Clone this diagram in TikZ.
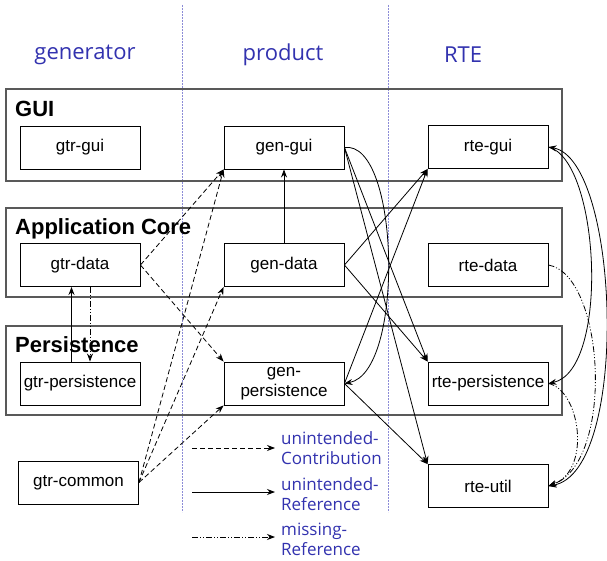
\documentclass[tikz,border=0pt]{standalone}
\usepackage{fontspec}
\setmainfont{Liberation Sans}
\newfontfamily\hdfont{Open Sans}
\usetikzlibrary{arrows.meta}
\definecolor{hdblue}{RGB}{50,50,175}
\definecolor{sepblue}{RGB}{140,140,215}
\begin{document}
\begin{tikzpicture}[x=1pt,y=-1pt,
  comp/.style={draw=black,line width=0.9pt,minimum width=120pt,minimum height=43pt,inner sep=0pt,fill=white,font=\fontsize{17}{20}\selectfont,align=center},
  layerbox/.style={draw=black!65,line width=1.2pt},
  layerlbl/.style={anchor=base west,inner sep=0pt,font=\fontsize{22}{24}\selectfont\bfseries},
  hdr/.style={text=hdblue,font=\hdfont\fontsize{22}{24}\selectfont},
  lgd/.style={text=hdblue,font=\hdfont\fontsize{17}{20}\selectfont,align=left,anchor=west,inner sep=0pt},
  sep/.style={draw=sepblue,line width=0.8pt,dash pattern=on 2pt off 1pt},
  arr/.style={-{Stealth[length=8pt,width=6pt]},line width=0.8pt},
  contrib/.style={arr,dash pattern=on 5pt off 3pt},
  uref/.style={arr},
  mref/.style={arr,dash pattern=on 6pt off 2pt on 1pt off 2pt on 1pt off 2pt}
]
\useasboundingbox (0,0) rectangle (607,561);
\fill[white] (0,0) rectangle (607,561);
% separators
\draw[sep] (182,5) -- (182,512);
\draw[sep] (388,5) -- (388,512);
% headers
\node[hdr] (hgen) at (85,55) {generator};
\node[hdr] (hprod) at (283,55) {product};
\node[hdr] (hrte) at (463,55) {RTE};
% layers
\draw[layerbox] (6,89) rectangle (562,181);
\draw[layerbox] (6,208) rectangle (562,297);
\draw[layerbox] (6,326) rectangle (562,415);
\node[layerlbl] (lgui) at (15,117) {GUI};
\node[layerlbl] (lapp) at (15,234) {Application Core};
\node[layerlbl] (lper) at (15,352) {Persistence};
% components
\node[comp] (gtrgui) at (80,147.5) {gtr-gui};
\node[comp] (gengui) at (284,147.5) {gen-gui};
\node[comp] (rtegui) at (488,147) {rte-gui};
\node[comp] (gtrdata) at (80,265) {gtr-data};
\node[comp] (gendata) at (284,265) {gen-data};
\node[comp] (rtedata) at (488,265) {rte-data};
\node[comp] (gtrpers) at (80,383.5) {gtr-persistence};
\node[comp] (genpers) at (284,383.5) {gen-\\persistence};
\node[comp] (rtepers) at (488,383.5) {rte-persistence};
\node[comp] (gtrcommon) at (78.5,482.5) {gtr-common};
\node[comp] (rteutil) at (488,486) {rte-util};
% unintended contributions (dashed)
\draw[contrib] (gtrdata.east) -- (gengui.south west);
\draw[contrib] (gtrdata.east) -- (genpers.north west);
\draw[contrib] (gtrcommon.east) -- (gengui.south west);
\draw[contrib] (gtrcommon.east) -- (gendata.south west);
\draw[contrib] (gtrcommon.east) -- (genpers.south west);
% unintended references (solid)
\draw[uref] (gtrpers.north -| 71.5,0) -- (gtrdata.south -| 71.5,0);
\draw[uref] (gendata.north) -- (gengui.south);
\draw[uref] (gengui.east) .. controls (400,140) and (405,372) .. (genpers.east);
\draw[uref] (gengui.east) -- (rtepers.north west);
\draw[uref] (gengui.east) -- (rteutil.north west);
\draw[uref] (gendata.east) -- (rtegui.south west);
\draw[uref] (gendata.east) -- (rtepers.north west);
\draw[uref] (genpers.east) -- (rtegui.south west);
\draw[uref] (genpers.east) -- (rteutil.north west);
\draw[uref] (rtegui.east) .. controls (600,160) and (610,370) .. (rtepers.east);
\draw[uref,{Stealth[length=8pt,width=6pt]}-{Stealth[length=8pt,width=6pt]}] (rtegui.east) .. controls (620,160) and (630,472) .. (rteutil.east);
% missing references (dash-dot-dot)
\draw[mref] (gtrdata.south -| 90,0) -- (gtrpers.north -| 90,0);
\draw[mref] (rtedata.east) .. controls (605,275) and (615,462) .. (rteutil.east);
\draw[mref] (rtepers.east) .. controls (580,390) and (592,470) .. (rteutil.east);
% legend
\coordinate (la1) at (192,448); \coordinate (lb1) at (275,448);
\coordinate (la2) at (192,492); \coordinate (lb2) at (275,492);
\coordinate (la3) at (192,537); \coordinate (lb3) at (275,537);
\draw[contrib] (la1) -- (lb1);
\draw[uref] (la2) -- (lb2);
\draw[mref] (la3) -- (lb3);
\node[lgd] (t1) at (281,448) {unintended-\\Contribution};
\node[lgd] (t2) at (281,494) {unintended-\\Reference};
\node[lgd] (t3) at (281,539) {missing-\\Reference};
\end{tikzpicture}
\end{document}
